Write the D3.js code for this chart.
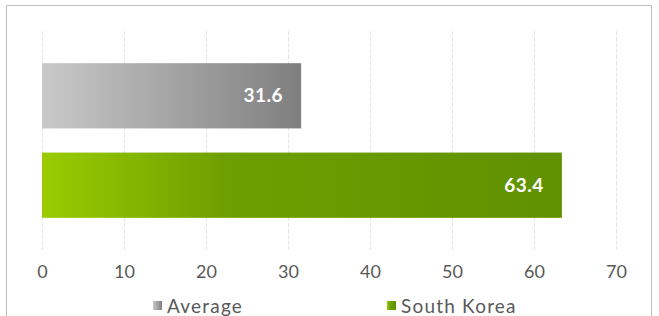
<!DOCTYPE html>
<html>
<head>
<meta charset="utf-8">
<script src="https://cdn.jsdelivr.net/npm/d3@7"></script>
<style>
  body { margin: 0; background: #fff; }
  svg { display: block; }
</style>
</head>
<body>
<div id="chart"></div>
<script>
const categories = ["Average", "South Korea"];
const values = [31.6, 63.4];
const tickValues = [0, 10, 20, 30, 40, 50, 60, 70];

const width = 659, height = 316;
const plotLeft = 42, plotRight = 616;   // 0 and 70 on the axis
const plotTop = 31, plotBottom = 250;   // gridline span

const svg = d3.select("#chart").append("svg")
  .attr("width", width)
  .attr("height", height);

// gradients
const defs = svg.append("defs");
const grads = [
  { id: "g0", stops: [[0, "#c9c9c9"], [1, "#7f7f7f"]] },
  { id: "g1", stops: [[0, "#9acc00"], [0.35, "#6e9f00"], [1, "#609100"]] }
];
grads.forEach(g => {
  const lg = defs.append("linearGradient").attr("id", g.id)
    .attr("x1", "0%").attr("x2", "100%").attr("y1", "0%").attr("y2", "0%");
  g.stops.forEach(s => lg.append("stop").attr("offset", s[0]).attr("stop-color", s[1]));
});

// outer frame
svg.append("rect")
  .attr("x", 6.5).attr("y", 5.5)
  .attr("width", 645).attr("height", 330)
  .attr("fill", "none")
  .attr("stroke", "#bfbfbf");

const x = d3.scaleLinear().domain([0, 70]).range([plotLeft, plotRight]);
const y = d3.scaleBand().domain(categories).range([plotTop, plotBottom])
  .paddingInner(0.27).paddingOuter(0.36);

// gridlines
svg.append("g").selectAll("line")
  .data(tickValues)
  .join("line")
  .attr("x1", d => Math.round(x(d)) + 0.5)
  .attr("x2", d => Math.round(x(d)) + 0.5)
  .attr("y1", plotTop).attr("y2", plotBottom)
  .attr("stroke", "#e3e3e3")
  .attr("stroke-dasharray", "4,2");

// bars
svg.append("g").selectAll("rect")
  .data(categories)
  .join("rect")
  .attr("x", x(0))
  .attr("y", d => y(d))
  .attr("width", (d, i) => x(values[i]) - x(0))
  .attr("height", y.bandwidth())
  .attr("fill", (d, i) => `url(#g${i})`);

// value labels
svg.append("g").selectAll("text")
  .data(categories)
  .join("text")
  .attr("x", (d, i) => x(values[i]) - 18)
  .attr("y", d => y(d) + y.bandwidth() / 2)
  .attr("dy", "0.35em")
  .attr("text-anchor", "end")
  .attr("font-family", "Lato, sans-serif")
  .attr("font-weight", "bold")
  .attr("font-size", 19)
  .attr("letter-spacing", 0.5)
  .attr("fill", "#fff")
  .text((d, i) => values[i].toFixed(1));

// x axis labels
const axis = d3.axisBottom(x).tickValues(tickValues).tickSize(0).tickPadding(0);
const ax = svg.append("g").attr("transform", `translate(0,${272})`).call(axis);
ax.select(".domain").remove();
ax.selectAll("text")
  .attr("dy", "0.35em")
  .attr("font-family", "Lato, sans-serif")
  .attr("font-size", 18)
  .attr("fill", "#595959");

// legend
const legendX = [153, 387];
const lg = svg.append("g").selectAll("g")
  .data(categories)
  .join("g")
  .attr("transform", (d, i) => `translate(${legendX[i]},301)`);
lg.append("rect")
  .attr("width", 9).attr("height", 9)
  .attr("fill", (d, i) => `url(#g${i})`);
lg.append("text")
  .attr("x", 14).attr("y", 12)
  .attr("font-family", "Lato, sans-serif")
  .attr("font-size", 19)
  .attr("letter-spacing", 1.2)
  .attr("fill", "#595959")
  .text(d => d);
</script>
</body>
</html>
